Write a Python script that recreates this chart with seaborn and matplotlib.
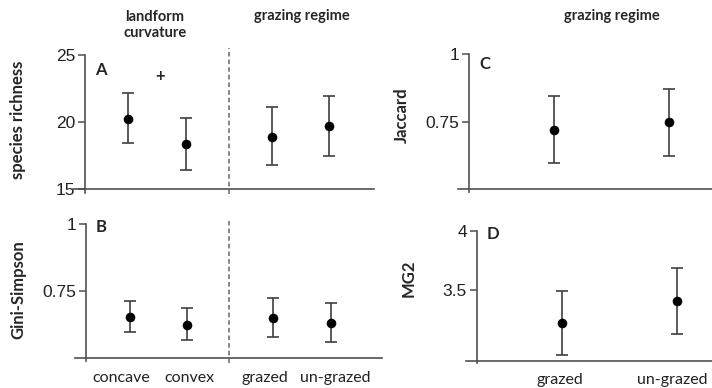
import matplotlib
matplotlib.use("Agg")
import matplotlib.pyplot as plt
import seaborn as sns
import pandas as pd
import numpy as np

sns.set_style("white")
plt.rcParams['font.family'] = ['Lato', 'DejaVu Sans']

# ---------------- data ----------------
cat_ab = ["concave", "convex", "grazed", "un-grazed"]
cat_cd = ["grazed", "un-grazed"]

rich_mean = [20.22, 18.36, 18.90, 19.67]
rich_low = [18.40, 16.40, 16.77, 17.50]
rich_high = [22.20, 20.30, 21.10, 21.96]

gini_mean = [0.654, 0.626, 0.650, 0.631]
gini_low = [0.597, 0.570, 0.579, 0.561]
gini_high = [0.714, 0.687, 0.725, 0.706]

jacc_mean = [0.719, 0.749]
jacc_low = [0.598, 0.624]
jacc_high = [0.844, 0.870]

mg2_mean = [3.216, 3.401]
mg2_low = [2.950, 3.130]
mg2_high = [3.494, 3.688]

ticks_rich = [15, 20, 25]
ticks_gini = [0.75, 1]
ticks_jacc = [0.75, 1]
ticks_mg2 = [3.5, 4]

# ---------------- layout ----------------
W, H = 712, 388
fig = plt.figure(figsize=(W / 100, H / 100), dpi=100)

def rect(l, r, t, b):
    return [l / W, 1 - b / H, (r - l) / W, (b - t) / H]

pos_ab = [0, 1, 2.5, 3.5]
lab_ab = [-0.15, 1.05, 2.36, 3.57]
pos_cd = [0, 1]

AX_COL = "#505050"
ERR_COL = "#404040"
tick_font = dict(family=["Liberation Sans", "DejaVu Sans"], size=12.5, color="#222222")


def panel(r, xlim, ylim, yaxis_x, ybounds, ybase, cats, pos, labpos, mean, lo, hi, yticks, yticklabels):
    ax = fig.add_axes(rect(*r))
    df = pd.DataFrame({"x": pos, "y": mean, "cat": cats})
    yerr = np.array([np.array(mean) - np.array(lo), np.array(hi) - np.array(mean)])
    ax.errorbar(df["x"], df["y"], yerr=yerr, fmt="none", ecolor=ERR_COL,
                elinewidth=1.2, capsize=4.5, capthick=1.2, zorder=2)
    sns.scatterplot(data=df, x="x", y="y", color="black", s=48, edgecolor="black",
                    linewidth=0, ax=ax, zorder=3, legend=False)
    ax.set_xlim(*xlim)
    ax.set_ylim(*ylim)
    for s in ["top", "right"]:
        ax.spines[s].set_visible(False)
    ax.spines["left"].set_position(("data", yaxis_x))
    ax.spines["left"].set_bounds(*ybounds)
    ax.spines["bottom"].set_position(("data", ybase))
    for s in ["left", "bottom"]:
        ax.spines[s].set_color(AX_COL)
        ax.spines[s].set_linewidth(1.2)
    ax.set_yticks(yticks)
    ax.set_yticklabels(yticklabels, **tick_font)
    ax.tick_params(axis="y", direction="out", length=5, width=1.1, color=AX_COL, pad=2, left=True)
    ax.set_xticks(labpos)
    ax.set_xticklabels(cats, fontsize=11.5, color="#222222", family=["Lato", "DejaVu Sans"])
    ax.tick_params(axis="x", length=0, pad=9)
    ax.set_xlabel("")
    ax.set_ylabel("")
    ax.patch.set_alpha(0)
    return ax


# Panel A
axA = panel((73, 374, 48, 194), (-0.957, 4.278), (14.63, 25.52), -0.748, (14.7, 25), 15,
            cat_ab, pos_ab, lab_ab, rich_mean, rich_low, rich_high, ticks_rich, ["15", "20", "25"])
axA.set_xticklabels([])
axA.axvline(1.75, ymin=0.0, ymax=1, color="#666666", ls=(0, (3, 2)), lw=1.1)
axA.text(-0.47, 23.9, "A", fontsize=12, fontweight="bold", ha="center", va="center")
axA.text(0.56, 23.45, "+", fontsize=12, fontweight="bold", ha="center", va="center")

# Panel B
axB = panel((75, 382, 218, 363), (-0.948, 4.391), (0.4825, 1.0235), -0.757, (0.49, 1), 0.5,
            cat_ab, pos_ab, lab_ab, gini_mean, gini_low, gini_high, ticks_gini, ["0.75", "1"])
axB.axvline(1.73, ymin=0.0, ymax=1, color="#666666", ls=(0, (3, 2)), lw=1.1)
axB.text(-0.5, 0.99, "B", fontsize=12, fontweight="bold", ha="center", va="center")

# Panel C
axC = panel((457.7, 712, 50, 194), (-0.84, 1.373), (0.4814, 1.016), -0.745, (0.49, 1), 0.5,
            cat_cd, pos_cd, pos_cd, jacc_mean, jacc_low, jacc_high, ticks_jacc, ["0.75", "1"])
axC.set_xticklabels([])
axC.text(-0.6, 0.965, "C", fontsize=12, fontweight="bold", ha="center", va="center")

# Panel D
axD = panel((466, 712, 226, 365), (-0.837, 1.302), (2.8636, 4.0398), -0.745, (2.88, 4), 2.9,
            cat_cd, pos_cd, [-0.025, 0.96], mg2_mean, mg2_low, mg2_high, ticks_mg2, ["3.5", "4"])
axD.text(-0.6, 3.97, "D", fontsize=12, fontweight="bold", ha="center", va="center")

# Headers and axis labels
def ftext(x, y, s, **kw):
    fig.text(x / W, 1 - y / H, s, ha="center", va="center", **kw)

ftext(155, 25, "landform\ncurvature", fontsize=10.5, fontweight="bold", linespacing=1.25)
ftext(302, 16, "grazing regime", fontsize=10.5, fontweight="bold")
ftext(612, 16, "grazing regime", fontsize=10.5, fontweight="bold")

ftext(18, 120, "species richness", fontsize=12, fontweight="bold", rotation=90)
ftext(18, 290, "Gini-Simpson", fontsize=12, fontweight="bold", rotation=90)
ftext(402, 115, "Jaccard", fontsize=12, fontweight="bold", rotation=90)
ftext(409, 278, "MG2", fontsize=12, fontweight="bold", rotation=90)

fig.savefig("out.png", dpi=100, facecolor="white")
